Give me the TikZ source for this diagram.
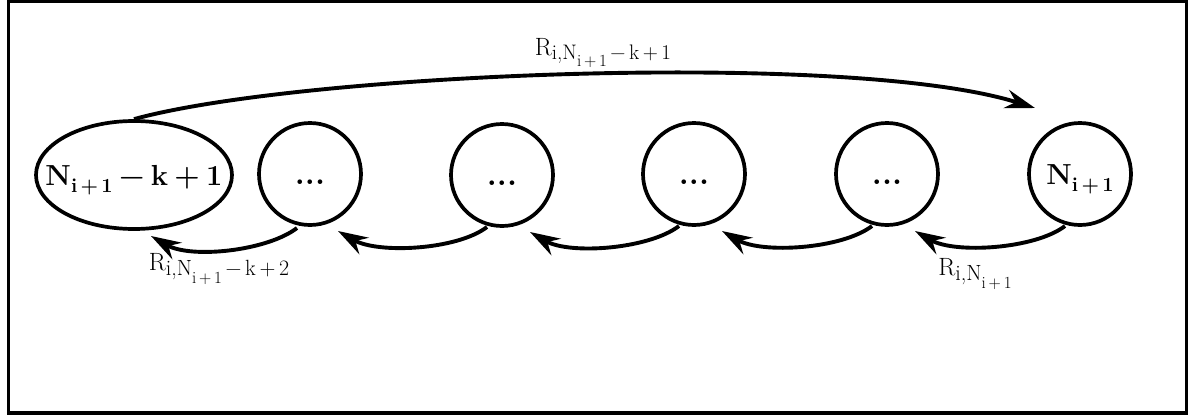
\documentclass[tikz,border=0pt]{standalone}
\usepackage{fontspec}
\setmainfont{Latin Modern Roman}
\usetikzlibrary{arrows.meta,shapes.geometric,calc}
\newcommand\lowr[3]{\raisebox{-#1}{\fontsize{#2}{#2}\selectfont #3}}
\newcommand\gapsp{\hspace{0.22em}}
\begin{document}
\begin{tikzpicture}[x=1pt,y=-1pt,
  st/.style={draw=black, line width=3.7pt, circle, minimum size=102pt, inner sep=0pt,
    font=\fontsize{29}{32}\selectfont\bfseries, text height=20pt, text depth=0pt},
  el/.style={st, ellipse, minimum width=196pt, minimum height=108pt},
  arr/.style={line width=3.9pt, -{Stealth[length=30pt,width=19pt,inset=10pt]}},
  lab/.style={font=\fontsize{25}{30}\selectfont, inner sep=0pt, anchor=base}]
\useasboundingbox (0,0) rectangle (1189,418);
\draw[line width=3.5pt] (8.5,1.5) rectangle (1186.5,413);
\node[el] (n1) at (134,175) {\makebox[0pt]{N\lowr{7pt}{20}{i\,+\,1}\gapsp−\gapsp k\gapsp+\gapsp 1}};
\node[st] (n2) at (310,174) {\makebox[0pt]{\fontsize{32}{36}\selectfont ...}};
\node[st] (n3) at (502,175) {\makebox[0pt]{\fontsize{32}{36}\selectfont ...}};
\node[st] (n4) at (694,174) {\makebox[0pt]{\fontsize{32}{36}\selectfont ...}};
\node[st] (n5) at (887,174) {\makebox[0pt]{\fontsize{32}{36}\selectfont ...}};
\node[st] (n6) at (1080,174) {\makebox[0pt]{N\lowr{7pt}{20}{i\,+\,1}}};
\draw[arr] (n1.north) .. controls +(166,-46) and +(-185,-58) .. ($(n6.center)+(-45,-66)$);
\draw[arr] ($(n6.center)+(-15,52)$) .. controls +(-30,23) and +(40,23) .. ($(n5.center)+(28,57)$);
\draw[arr] ($(n5.center)+(-15,52)$) .. controls +(-30,23) and +(40,23) .. ($(n4.center)+(28,57)$);
\draw[arr] ($(n4.center)+(-15,52)$) .. controls +(-30,23) and +(40,23) .. ($(n3.center)+(28,57)$);
\draw[arr] ($(n3.center)+(-15,52)$) .. controls +(-30,23) and +(40,23) .. ($(n2.center)+(28,57)$);
\draw[arr] ($(n2.center)+(-13,54)$) .. controls +(-30,23) and +(40,23) .. ($(n1.center)+(17,61)$);
\node[lab] (l1) at (603,55) {R\lowr{4pt}{21}{i,N\lowr{7pt}{17}{i\,+\,1}\,−\,k\,+\,1}};
\node[lab] (l2) at (219,270) {R\lowr{5pt}{22}{i,N\lowr{8pt}{17}{i\,+\,1}\,−\,k\,+\,2}};
\node[lab] (l3) at (975,275) {R\lowr{5pt}{22}{i,N\lowr{8pt}{17}{i\,+\,1}}};
\end{tikzpicture}
\end{document}
